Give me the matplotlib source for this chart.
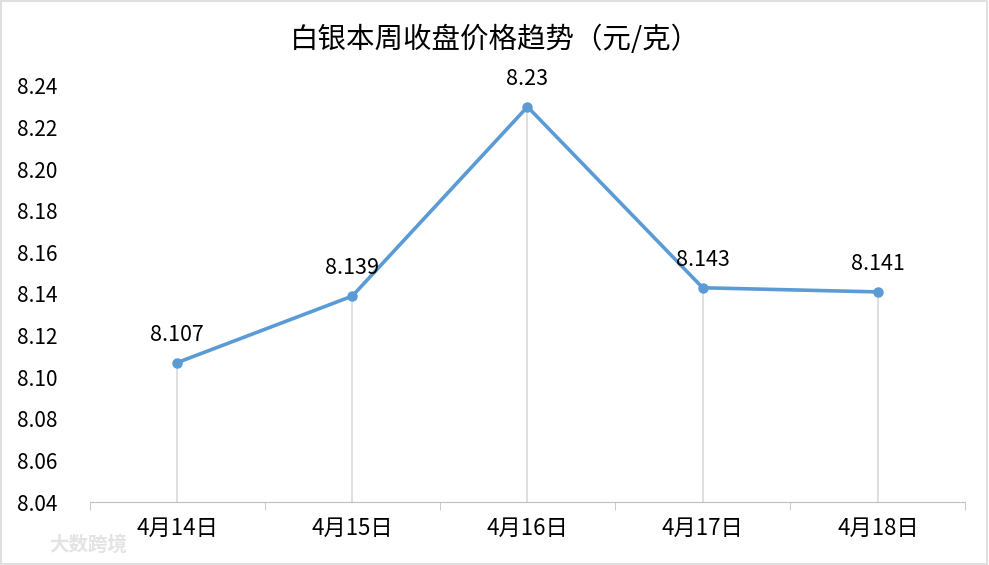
import matplotlib
matplotlib.use("Agg")
import matplotlib.pyplot as plt
from matplotlib.patches import Rectangle

plt.rcParams["font.family"] = ["Noto Sans CJK SC", "DejaVu Sans"]

dates = ["4月14日", "4月15日", "4月16日", "4月17日", "4月18日"]
prices = [8.107, 8.139, 8.23, 8.143, 8.141]
price_labels = ["8.107", "8.139", "8.23", "8.143", "8.141"]
yticks = [8.04, 8.06, 8.08, 8.10, 8.12, 8.14, 8.16, 8.18, 8.20, 8.22, 8.24]

fig = plt.figure(figsize=(9.89, 5.65), dpi=100)
ax = fig.add_axes([0.0905, 0.1115, 0.8857, 0.7363])

x = list(range(len(dates)))
ax.vlines(x, 8.04, prices, color="#D9D9D9", lw=1.2, zorder=1)
ax.plot(x, prices, color="#5B9BD5", lw=2.6, marker="o", ms=6.5, zorder=3)
for xi, yi, lab in zip(x, prices, price_labels):
    ax.annotate(lab, (xi, yi), xytext=(0, 12), textcoords="offset points",
                ha="center", va="bottom", fontsize=15.5)

ax.set_xlim(-0.5, len(dates) - 0.5)
ax.set_ylim(8.04, 8.24)
ax.set_yticks(yticks)
ax.set_yticklabels([f"{v:.2f}" for v in yticks])
ax.set_xticks(x)
ax.set_xticklabels(dates)
ax.set_xticks([i - 0.5 for i in range(len(dates) + 1)], minor=True)
ax.tick_params(axis="x", which="major", length=0, pad=11, labelsize=16)
ax.tick_params(axis="x", which="minor", length=6, color="#BFBFBF")
ax.tick_params(axis="y", length=0, pad=23, labelsize=15)
for s in ("top", "right", "left"):
    ax.spines[s].set_visible(False)
ax.spines["bottom"].set_color("#BFBFBF")

fig.text(0.5, 0.93, "白银本周收盘价格趋势（元/克）", ha="center", va="center", fontsize=20.5)
fig.text(0.05, 0.035, "大数跨境", ha="left", va="center", fontsize=14,
         color="#E3E3E3", fontweight="bold")
fig.patches.append(Rectangle((0.001, 0.001), 0.997, 0.997, transform=fig.transFigure,
                             fill=False, edgecolor="#D9D9D9", lw=1.2))

fig.savefig("out.png", dpi=100)
